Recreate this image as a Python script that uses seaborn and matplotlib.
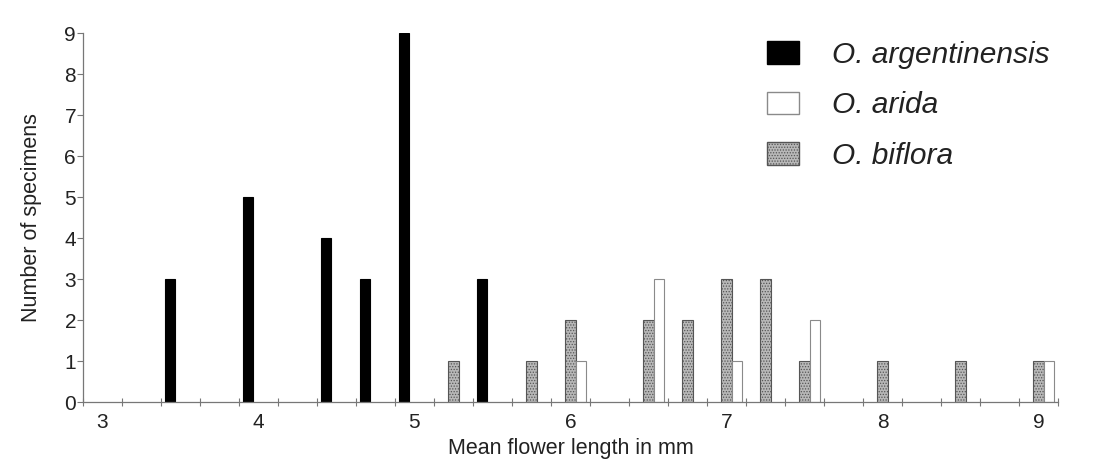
import pandas as pd
import matplotlib
matplotlib.use("Agg")
import matplotlib.pyplot as plt
from matplotlib.patches import Patch
import seaborn as sns

sns.set_style("white")
plt.rcParams['font.family'] = ['Liberation Sans', 'DejaVu Sans']
plt.rcParams['hatch.linewidth'] = 0.6

# Flower length classes (mm) and specimen counts per species
arg_len = [3.5, 4.0, 4.5, 4.75, 5.0, 5.5]
arg_cnt = [3, 5, 4, 3, 9, 3]

bif_len = [5.25, 5.75, 6.0, 6.5, 6.75, 7.0, 7.25, 7.5, 8.0, 8.5, 9.0]
bif_cnt = [1, 1, 2, 2, 2, 3, 3, 1, 1, 1, 1]

ari_len = [6.0, 6.5, 7.0, 7.5, 9.0]
ari_cnt = [1, 3, 1, 2, 1]

species = ["O. argentinensis", "O. biflora", "O. arida"]
legend_order = ["O. argentinensis", "O. arida", "O. biflora"]

df = pd.concat([
    pd.DataFrame({"length": arg_len, "count": arg_cnt, "species": species[0]}),
    pd.DataFrame({"length": bif_len, "count": bif_cnt, "species": species[1]}),
    pd.DataFrame({"length": ari_len, "count": ari_cnt, "species": species[2]}),
])

styles = {
    "O. argentinensis": dict(facecolor="black", edgecolor="black", hatch=None),
    "O. biflora": dict(facecolor="#b8b8b8", edgecolor="#555555", hatch="......"),
    "O. arida": dict(facecolor="white", edgecolor="#8a8a8a", hatch=None),
}

fig = plt.figure(figsize=(10.96, 4.59), dpi=100)
ax = fig.add_axes([0.0757, 0.124, 0.8896, 0.804])

sns.barplot(data=df, x="length", y="count", hue="species", hue_order=species,
            native_scale=True, dodge=True, errorbar=None, legend=False, ax=ax)

for name, cont in zip(species, ax.containers):
    st = styles[name]
    for bar in cont:
        bar.set_facecolor(st["facecolor"])
        bar.set_edgecolor(st["edgecolor"])
        bar.set_linewidth(0.8)
        if st["hatch"]:
            bar.set_hatch(st["hatch"])

ax.set_xlim(2.875, 9.125)
ax.set_ylim(0, 9)
ax.set_xticks(range(3, 10))
ax.set_xticks([2.875 + 0.25 * i for i in range(26)], minor=True)
ax.set_yticks(range(0, 10))
ax.tick_params(bottom=True, left=True, which="both")
ax.tick_params(axis="x", which="major", length=0, labelsize=15, colors="#222222", pad=8)
ax.tick_params(axis="x", which="minor", length=6, direction="inout", color="#777777", width=0.8)
ax.tick_params(axis="y", length=4, direction="out", color="#777777", width=0.8,
               labelsize=15, labelcolor="#222222", pad=1)

for side in ["top", "right"]:
    ax.spines[side].set_visible(False)
for side in ["left", "bottom"]:
    ax.spines[side].set_color("#777777")
    ax.spines[side].set_linewidth(0.9)

ax.set_xlabel("Mean flower length in mm", fontsize=15.5, color="#222222", labelpad=4)
ax.set_ylabel("Number of specimens", fontsize=15.5, color="#222222", labelpad=16)

handles = [Patch(facecolor=styles[n]["facecolor"], edgecolor=styles[n]["edgecolor"],
                 hatch=styles[n]["hatch"], label=n) for n in legend_order]
leg = fig.legend(handles=handles, loc="upper left", bbox_to_anchor=(767 / 1096, 1 - 41 / 459),
                 frameon=False, prop={"style": "italic", "size": 21.5},
                 borderpad=0, borderaxespad=0,
                 handlelength=1.07, handleheight=0.77, handletextpad=1.1, labelspacing=0.75)
for t in leg.get_texts():
    t.set_color("#222222")

fig.savefig("out.png", dpi=100)
